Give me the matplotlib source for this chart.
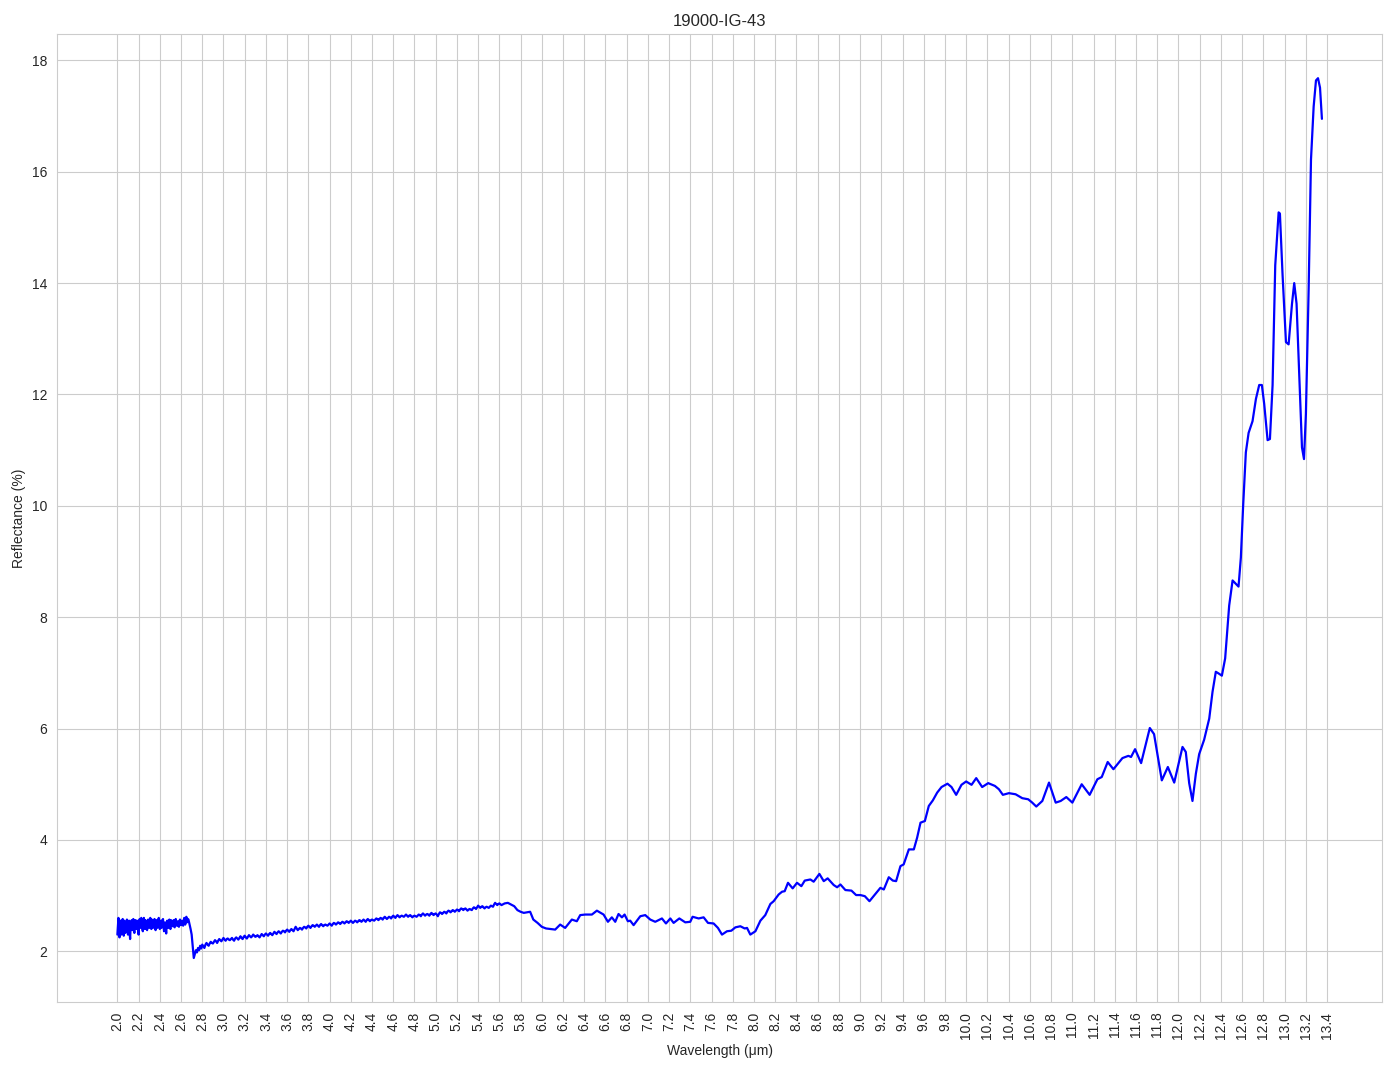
import numpy as np
import matplotlib
matplotlib.use("Agg")
import matplotlib.pyplot as plt
import seaborn as sns

title = "19000-IG-43"
x_label = "Wavelength (μm)"
y_label = "Reflectance (%)"

# Noisy start (2.00 - 2.67 um)
wl_noisy = [2.00, 2.01, 2.02, 2.03, 2.04, 2.05, 2.06, 2.07, 2.08, 2.09,
            2.10, 2.11, 2.12, 2.13, 2.14, 2.15, 2.16, 2.17, 2.18, 2.19,
            2.20, 2.21, 2.22, 2.23, 2.24, 2.25, 2.26, 2.27, 2.28, 2.29,
            2.30, 2.31, 2.32, 2.33, 2.34, 2.35, 2.36, 2.37, 2.38, 2.39,
            2.40, 2.41, 2.42, 2.43, 2.44, 2.45, 2.46, 2.47, 2.48, 2.49,
            2.50, 2.51, 2.52, 2.53, 2.54, 2.55, 2.56, 2.57, 2.58, 2.59,
            2.60, 2.61, 2.62, 2.63, 2.64, 2.65, 2.66, 2.67]
refl_noisy = [2.30, 2.60, 2.25, 2.55, 2.35, 2.58, 2.28, 2.52, 2.40, 2.57,
              2.30, 2.55, 2.22, 2.50, 2.38, 2.58, 2.33, 2.56, 2.40, 2.53,
              2.30, 2.58, 2.42, 2.55, 2.36, 2.60, 2.40, 2.52, 2.38, 2.57,
              2.42, 2.60, 2.40, 2.54, 2.45, 2.58, 2.38, 2.56, 2.44, 2.60,
              2.40, 2.55, 2.45, 2.58, 2.36, 2.52, 2.32, 2.55, 2.42, 2.57,
              2.40, 2.53, 2.45, 2.56, 2.43, 2.58, 2.46, 2.54, 2.44, 2.57,
              2.47, 2.55, 2.46, 2.60, 2.48, 2.62, 2.55, 2.57]
wl_noisy_b = [2.005, 2.015, 2.025, 2.035, 2.045, 2.055, 2.065, 2.075, 2.085, 2.095,
              2.105, 2.115, 2.125, 2.135, 2.145, 2.155, 2.165, 2.175, 2.185, 2.195,
              2.205, 2.215, 2.225, 2.235, 2.245, 2.255, 2.265, 2.275, 2.285, 2.295,
              2.305, 2.315, 2.325, 2.335, 2.345, 2.355, 2.365, 2.375, 2.385, 2.395,
              2.405, 2.415, 2.425, 2.435, 2.445, 2.455, 2.465, 2.475, 2.485, 2.495,
              2.505, 2.515, 2.525, 2.535, 2.545, 2.555, 2.565, 2.575, 2.585, 2.595,
              2.605, 2.615, 2.625, 2.635, 2.645, 2.655, 2.665]
refl_noisy_b = [2.45, 2.40, 2.52, 2.30, 2.50, 2.42, 2.55, 2.33, 2.50, 2.45,
                2.48, 2.35, 2.46, 2.56, 2.44, 2.40, 2.52, 2.42, 2.55, 2.38,
                2.50, 2.44, 2.60, 2.40, 2.52, 2.45, 2.56, 2.43, 2.50, 2.46,
                2.54, 2.45, 2.57, 2.42, 2.52, 2.46, 2.51, 2.42, 2.55, 2.47,
                2.50, 2.42, 2.56, 2.44, 2.50, 2.42, 2.48, 2.45, 2.52, 2.44,
                2.56, 2.47, 2.50, 2.45, 2.55, 2.48, 2.52, 2.46, 2.53, 2.49,
                2.52, 2.48, 2.54, 2.50, 2.56, 2.52, 2.58]

# Drop after 2.67 um
wl_drop = [2.69, 2.70, 2.71, 2.72, 2.73, 2.74, 2.75, 2.76, 2.77, 2.78, 2.79]
refl_drop = [2.40, 2.30, 2.10, 1.88, 1.95, 2.02, 1.98, 2.06, 2.02, 2.10, 2.05]

# Slowly rising, slightly noisy plateau (2.80 - 5.60 um)
wl_plateau = [2.80, 2.82, 2.84, 2.86, 2.88, 2.90, 2.92, 2.94, 2.96, 2.98,
              3.00, 3.02, 3.04, 3.06, 3.08, 3.10, 3.12, 3.14, 3.16, 3.18,
              3.20, 3.22, 3.24, 3.26, 3.28, 3.30, 3.32, 3.34, 3.36, 3.38,
              3.40, 3.42, 3.44, 3.46, 3.48, 3.50, 3.52, 3.54, 3.56, 3.58,
              3.60, 3.62, 3.64, 3.66, 3.68, 3.70, 3.72, 3.74, 3.76, 3.78,
              3.80, 3.82, 3.84, 3.86, 3.88, 3.90, 3.92, 3.94, 3.96, 3.98,
              4.00, 4.02, 4.04, 4.06, 4.08, 4.10, 4.12, 4.14, 4.16, 4.18,
              4.20, 4.22, 4.24, 4.26, 4.28, 4.30, 4.32, 4.34, 4.36, 4.38,
              4.40, 4.42, 4.44, 4.46, 4.48, 4.50, 4.52, 4.54, 4.56, 4.58,
              4.60, 4.62, 4.64, 4.66, 4.68, 4.70, 4.72, 4.74, 4.76, 4.78,
              4.80, 4.82, 4.84, 4.86, 4.88, 4.90, 4.92, 4.94, 4.96, 4.98,
              5.00, 5.02, 5.04, 5.06, 5.08, 5.10, 5.12, 5.14, 5.16, 5.18,
              5.20, 5.22, 5.24, 5.26, 5.28, 5.30, 5.32, 5.34, 5.36, 5.38,
              5.40, 5.42, 5.44, 5.46, 5.48, 5.50, 5.52, 5.54, 5.56, 5.58,
              5.60]
refl_plateau = [2.12, 2.06, 2.15, 2.10, 2.17, 2.14, 2.20, 2.15, 2.22, 2.18,
                2.24, 2.19, 2.23, 2.20, 2.24, 2.19, 2.25, 2.21, 2.27, 2.22,
                2.28, 2.23, 2.29, 2.25, 2.30, 2.26, 2.29, 2.25, 2.31, 2.27,
                2.32, 2.28, 2.33, 2.29, 2.35, 2.31, 2.36, 2.32, 2.37, 2.34,
                2.39, 2.35, 2.40, 2.36, 2.44, 2.38, 2.42, 2.39, 2.44, 2.41,
                2.46, 2.42, 2.47, 2.44, 2.48, 2.44, 2.49, 2.45, 2.48, 2.46,
                2.50, 2.46, 2.51, 2.48, 2.52, 2.49, 2.53, 2.50, 2.54, 2.51,
                2.55, 2.51, 2.55, 2.52, 2.56, 2.53, 2.57, 2.53, 2.58, 2.54,
                2.57, 2.55, 2.59, 2.56, 2.60, 2.57, 2.62, 2.58, 2.62, 2.59,
                2.64, 2.60, 2.65, 2.61, 2.64, 2.62, 2.66, 2.62, 2.65, 2.61,
                2.64, 2.62, 2.66, 2.63, 2.68, 2.64, 2.67, 2.64, 2.69, 2.65,
                2.68, 2.63, 2.70, 2.67, 2.71, 2.68, 2.73, 2.70, 2.74, 2.71,
                2.75, 2.72, 2.77, 2.74, 2.77, 2.73, 2.76, 2.74, 2.79, 2.76,
                2.82, 2.78, 2.81, 2.77, 2.80, 2.78, 2.82, 2.80, 2.87, 2.83,
                2.86]
wl_plateau_b = [2.81, 2.83, 2.85, 2.87, 2.89, 2.91, 2.93, 2.95, 2.97, 2.99,
                3.01, 3.03, 3.05, 3.07, 3.09, 3.11, 3.13, 3.15, 3.17, 3.19,
                3.21, 3.23, 3.25, 3.27, 3.29, 3.31, 3.33, 3.35, 3.37, 3.39,
                3.41, 3.43, 3.45, 3.47, 3.49, 3.51, 3.53, 3.55, 3.57, 3.59,
                3.61, 3.63, 3.65, 3.67, 3.69, 3.71, 3.73, 3.75, 3.77, 3.79,
                3.81, 3.83, 3.85, 3.87, 3.89, 3.91, 3.93, 3.95, 3.97, 3.99,
                4.01, 4.03, 4.05, 4.07, 4.09, 4.11, 4.13, 4.15, 4.17, 4.19,
                4.21, 4.23, 4.25, 4.27, 4.29, 4.31, 4.33, 4.35, 4.37, 4.39,
                4.41, 4.43, 4.45, 4.47, 4.49, 4.51, 4.53, 4.55, 4.57, 4.59,
                4.61, 4.63, 4.65, 4.67, 4.69, 4.71, 4.73, 4.75, 4.77, 4.79,
                4.81, 4.83, 4.85, 4.87, 4.89, 4.91, 4.93, 4.95, 4.97, 4.99,
                5.01, 5.03, 5.05, 5.07, 5.09, 5.11, 5.13, 5.15, 5.17, 5.19,
                5.21, 5.23, 5.25, 5.27, 5.29, 5.31, 5.33, 5.35, 5.37, 5.39,
                5.41, 5.43, 5.45, 5.47, 5.49, 5.51, 5.53, 5.55, 5.57, 5.59]
refl_plateau_b = [2.09, 2.12, 2.12, 2.14, 2.15, 2.17, 2.18, 2.19, 2.20, 2.21,
                  2.21, 2.22, 2.21, 2.22, 2.21, 2.23, 2.23, 2.24, 2.24, 2.26,
                  2.25, 2.26, 2.27, 2.27, 2.28, 2.27, 2.27, 2.28, 2.29, 2.30,
                  2.30, 2.31, 2.31, 2.32, 2.33, 2.34, 2.34, 2.35, 2.36, 2.37,
                  2.37, 2.38, 2.38, 2.40, 2.41, 2.40, 2.41, 2.42, 2.43, 2.44,
                  2.44, 2.45, 2.46, 2.46, 2.46, 2.47, 2.47, 2.47, 2.47, 2.48,
                  2.48, 2.49, 2.50, 2.50, 2.51, 2.51, 2.52, 2.52, 2.53, 2.53,
                  2.53, 2.53, 2.54, 2.54, 2.55, 2.55, 2.55, 2.56, 2.56, 2.56,
                  2.56, 2.57, 2.58, 2.58, 2.59, 2.60, 2.60, 2.60, 2.61, 2.62,
                  2.62, 2.63, 2.63, 2.63, 2.63, 2.64, 2.64, 2.64, 2.63, 2.63,
                  2.63, 2.64, 2.65, 2.66, 2.66, 2.66, 2.66, 2.67, 2.67, 2.67,
                  2.66, 2.67, 2.69, 2.69, 2.70, 2.71, 2.72, 2.72, 2.73, 2.73,
                  2.74, 2.75, 2.76, 2.76, 2.75, 2.75, 2.75, 2.77, 2.78, 2.79,
                  2.80, 2.80, 2.79, 2.79, 2.79, 2.80, 2.81, 2.84, 2.85, 2.85]

# Smoother remainder (5.62 - 13.35 um)
wl_main = [5.62, 5.65, 5.68, 5.71, 5.74, 5.77, 5.80, 5.83, 5.86, 5.89,
           5.92, 5.96, 6.00, 6.04, 6.08, 6.126, 6.173, 6.22, 6.283, 6.33,
           6.362, 6.409, 6.472, 6.519, 6.582, 6.623, 6.66, 6.692, 6.723, 6.755,
           6.78, 6.811, 6.833, 6.865, 6.928, 6.975, 7.022, 7.069, 7.132, 7.17,
           7.211, 7.242, 7.296, 7.352, 7.399, 7.421, 7.478, 7.525, 7.566, 7.619,
           7.66, 7.698, 7.745, 7.786, 7.824, 7.871, 7.912, 7.934, 7.965, 8.013,
           8.06, 8.106, 8.154, 8.185, 8.232, 8.264, 8.289, 8.32, 8.364, 8.405,
           8.446, 8.478, 8.531, 8.562, 8.616, 8.657, 8.694, 8.751, 8.783, 8.814,
           8.861, 8.918, 8.962, 9.003, 9.044, 9.088, 9.144, 9.191, 9.223, 9.27,
           9.308, 9.339, 9.38, 9.41, 9.459, 9.506, 9.537, 9.569, 9.61, 9.647,
           9.685, 9.726, 9.767, 9.823, 9.861, 9.905, 9.955, 9.999, 10.05, 10.094,
           10.15, 10.207, 10.27, 10.308, 10.345, 10.402, 10.465, 10.528, 10.584, 10.622,
           10.66, 10.717, 10.78, 10.843, 10.89, 10.943, 11.0, 11.088, 11.163, 11.236,
           11.277, 11.333, 11.387, 11.472, 11.528, 11.553, 11.591, 11.648, 11.73, 11.77,
           11.843, 11.9, 11.96, 12.038, 12.069, 12.101, 12.132, 12.164, 12.195, 12.242,
           12.29, 12.321, 12.352, 12.378, 12.409, 12.44, 12.478, 12.51, 12.541, 12.566,
           12.588, 12.61, 12.635, 12.661, 12.698, 12.73, 12.761, 12.786, 12.808, 12.84,
           12.862, 12.887, 12.912, 12.944, 12.956, 12.981, 13.013, 13.038, 13.07, 13.091,
           13.113, 13.145, 13.164, 13.183, 13.201, 13.227, 13.249, 13.274, 13.296, 13.315,
           13.334, 13.352]
refl_main = [2.83, 2.86, 2.87, 2.84, 2.81, 2.74, 2.71, 2.69, 2.70, 2.71,
             2.57, 2.51, 2.44, 2.41, 2.40, 2.39, 2.48, 2.42, 2.57, 2.54,
             2.65, 2.66, 2.66, 2.73, 2.66, 2.53, 2.61, 2.53, 2.67, 2.61,
             2.66, 2.54, 2.55, 2.47, 2.63, 2.65, 2.57, 2.53, 2.59, 2.50,
             2.59, 2.51, 2.59, 2.52, 2.53, 2.62, 2.59, 2.61, 2.51, 2.50,
             2.42, 2.30, 2.36, 2.37, 2.43, 2.45, 2.41, 2.42, 2.30, 2.36,
             2.55, 2.65, 2.85, 2.90, 3.02, 3.07, 3.08, 3.23, 3.13, 3.23,
             3.17, 3.27, 3.29, 3.25, 3.39, 3.26, 3.31, 3.19, 3.15, 3.20,
             3.10, 3.09, 3.01, 3.01, 2.99, 2.90, 3.03, 3.14, 3.11, 3.33,
             3.27, 3.26, 3.53, 3.56, 3.83, 3.83, 4.04, 4.31, 4.34, 4.61,
             4.71, 4.85, 4.95, 5.01, 4.95, 4.81, 4.99, 5.05, 4.99, 5.11,
             4.95, 5.02, 4.97, 4.91, 4.81, 4.84, 4.82, 4.75, 4.73, 4.67,
             4.60, 4.70, 5.03, 4.67, 4.70, 4.77, 4.67, 5.00, 4.81, 5.09,
             5.13, 5.40, 5.27, 5.47, 5.51, 5.49, 5.63, 5.38, 6.01, 5.90,
             5.07, 5.31, 5.03, 5.67, 5.58, 5.02, 4.70, 5.19, 5.54, 5.80,
             6.18, 6.66, 7.02, 6.99, 6.95, 7.26, 8.21, 8.66, 8.60, 8.55,
             9.07, 10.02, 10.96, 11.31, 11.52, 11.92, 12.17, 12.17, 11.83, 11.18,
             11.20, 12.17, 14.32, 15.27, 15.25, 14.15, 12.94, 12.90, 13.63, 14.00,
             13.63, 12.00, 11.05, 10.84, 11.65, 13.90, 16.22, 17.17, 17.64, 17.68,
             17.51, 16.95]

wl_all = np.array(wl_noisy + wl_noisy_b + wl_drop + wl_plateau + wl_plateau_b + wl_main)
refl_all = np.array(refl_noisy + refl_noisy_b + refl_drop + refl_plateau + refl_plateau_b + refl_main)
order = np.argsort(wl_all, kind="stable")
wavelength = wl_all[order]
reflectance = refl_all[order]

x_ticks = np.round(np.arange(2.0, 13.41, 0.2), 1)
x_tick_labels = [f"{v:.1f}" for v in x_ticks]

sns.set_style("whitegrid")
plt.rcParams['font.family'] = ['Liberation Sans', 'DejaVu Sans']

fig, ax = plt.subplots(figsize=(13.94, 10.69), dpi=100)
fig.subplots_adjust(left=0.041, right=0.9915, bottom=0.0627, top=0.968)

ax.plot(wavelength, reflectance, color="blue", linewidth=1.6)
ax.set_xticks(x_ticks)
ax.set_xticklabels(x_tick_labels, rotation=90)
ax.set_title(title, fontsize=12)
ax.set_xlabel(x_label, fontsize=10)
ax.set_ylabel(y_label, fontsize=10)
ax.tick_params(labelsize=10)

fig.savefig("out.png", dpi=100)
